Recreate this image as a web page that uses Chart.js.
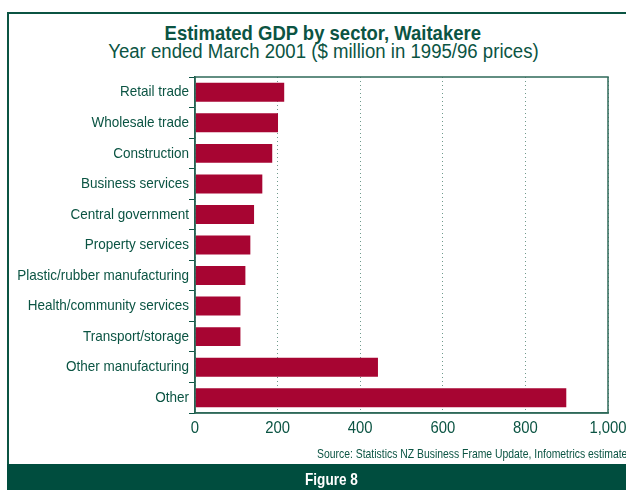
<!DOCTYPE html>
<html>
<head>
<meta charset="utf-8">
<script src="https://cdn.jsdelivr.net/npm/chart.js@4/dist/chart.umd.min.js"></script>
<style>
  body { margin: 0; background: #fff; }
  #wrap { position: relative; width: 626px; height: 490px; overflow: hidden; font-family: "Liberation Sans", Arial, sans-serif; color: #0b5443; }
  #frame { position: absolute; left: 7px; top: 12px; width: 640px; height: 470px; border: 2px solid #0b5443; box-sizing: border-box; }
  .line { position: absolute; left: 0; width: 646px; text-align: center; line-height: 1; white-space: nowrap; }
  .line span { display: inline-block; transform-origin: 50% 50%; }
  #title { top: 22px; font-size: 21px; font-weight: bold; }
  #title span { transform: scaleX(0.88); }
  #subtitle { top: 41px; font-size: 20px; }
  #subtitle span { transform: scaleX(0.93); }
  #source { position: absolute; left: 317px; top: 447px; font-size: 13px; line-height: 1; white-space: nowrap; transform: scaleX(0.8); transform-origin: 0 50%; }
  #band { position: absolute; left: 7px; top: 464px; width: 630px; height: 26px; background: #004d3e; }
  #fig { position: absolute; left: 305px; top: 471px; color: #fff; font-weight: bold; font-size: 17px; line-height: 1; transform: scaleX(0.8); transform-origin: 0 50%; }
  #holder { position: absolute; left: 0; top: 0; width: 626px; height: 490px; }
</style>
</head>
<body>
<div id="wrap">
  <div id="frame"></div>
  <div id="title" class="line"><span>Estimated GDP by sector, Waitakere</span></div>
  <div id="subtitle" class="line"><span>Year ended March 2001 ($ million in 1995/96 prices)</span></div>
  <div id="holder"><canvas id="myChart" width="626" height="490"></canvas></div>
  <div id="source">Source: Statistics NZ Business Frame Update, Infometrics estimates</div>
  <div id="band"></div>
  <div id="fig">Figure 8</div>
</div>
<script>
// sektor dan nilai (juta $)
const sectors = ['Retail trade', 'Wholesale trade', 'Construction', 'Business services', 'Central government',
    'Property services', 'Plastic/rubber manufacturing', 'Health/community services', 'Transport/storage',
    'Other manufacturing', 'Other'];
const gdpValues = [216, 201, 187, 163, 143, 134, 122, 110, 110, 443, 899];
const xTicks = [0, 200, 400, 600, 800, 1000];

const fontFamily = '"Liberation Sans", Arial, sans-serif';
const textColor = '#0b5443';

// teks sempit (font condensed tidak tersedia)
function narrowText(ctx, text, x, y, scaleX, align) {
    ctx.save();
    ctx.translate(x, y);
    ctx.scale(scaleX, 1);
    ctx.textAlign = align;
    ctx.fillText(text, 0, 0);
    ctx.restore();
}

const axisLabels = {
    id: 'axisLabels',
    afterDraw(chart) {
        const { ctx, chartArea, scales } = chart;
        ctx.save();
        // kotak area plot
        ctx.strokeStyle = '#2f6a5a';
        ctx.lineWidth = 1.5;
        ctx.strokeRect(chartArea.left, chartArea.top, chartArea.right - chartArea.left, chartArea.bottom - chartArea.top);

        ctx.fillStyle = textColor;
        ctx.textBaseline = 'middle';
        ctx.font = '15px ' + fontFamily;
        sectors.forEach(function(label, i) {
            narrowText(ctx, label, chartArea.left - 6, scales.y.getPixelForTick(i), 0.9, 'right');
        });
        ctx.font = '16.5px ' + fontFamily;
        xTicks.forEach(function(v) {
            narrowText(ctx, v.toLocaleString('en-US'), scales.x.getPixelForValue(v), 428.5, 0.9, 'center');
        });
        ctx.restore();
    }
};

document.addEventListener('DOMContentLoaded', function() {
    const ctx = document.getElementById('myChart').getContext('2d');
    new Chart(ctx, {
        type: 'bar',
        data: {
            labels: sectors,
            datasets: [{
                data: gdpValues,
                backgroundColor: '#a70532',
                barPercentage: 0.62,
                categoryPercentage: 1,
            }]
        },
        options: {
            indexAxis: 'y',
            responsive: false,
            animation: false,
            layout: { padding: { left: 0, top: 77, right: 18, bottom: 0 } },
            plugins: { legend: { display: false }, tooltip: { enabled: false } },
            scales: {
                x: {
                    min: 0,
                    max: 1000,
                    afterBuildTicks: function(axis) {
                        axis.ticks = xTicks.map(v => ({ value: v }));
                    },
                    afterFit: function(axis) { axis.height = 77; },
                    grid: { color: '#6f9a8c', lineWidth: 1, drawTicks: false },
                    border: { display: true, color: '#2f6a5a', width: 1.5, dash: [1, 3] },
                    ticks: { display: false }
                },
                y: {
                    afterFit: function(axis) { axis.width = 195; },
                    grid: { drawOnChartArea: false, drawTicks: true, tickLength: 6, color: '#0b5443' },
                    border: { display: true, color: '#0b5443', width: 1.5 },
                    ticks: { display: false }
                }
            }
        },
        plugins: [axisLabels]
    });
});
</script>
</body>
</html>
